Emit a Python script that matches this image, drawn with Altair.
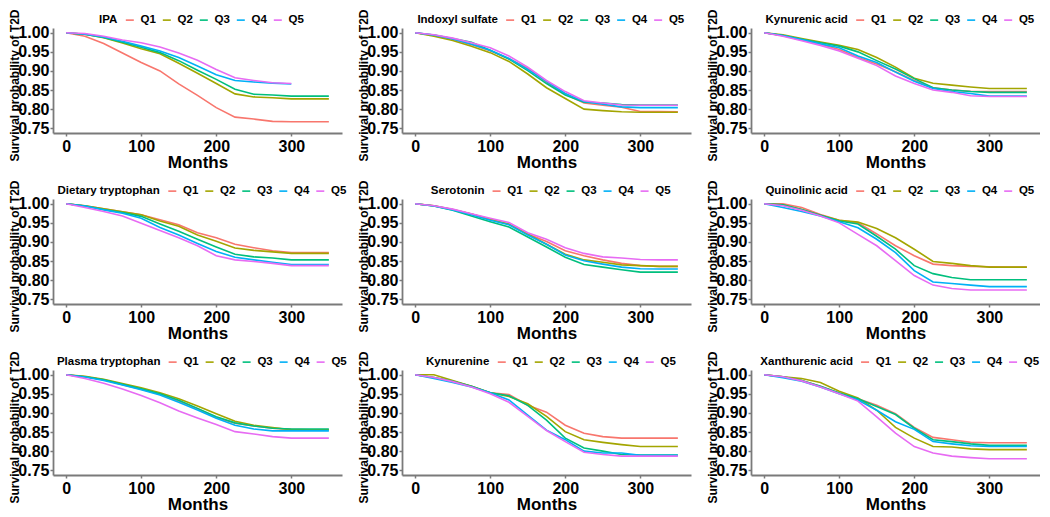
import altair as alt
import pandas as pd

months = [0, 25, 50, 75, 100, 125, 150, 175, 200, 225, 250, 275, 300, 325, 350]
quintiles = ["Q1", "Q2", "Q3", "Q4", "Q5"]
colors = ["#F8766D", "#A3A500", "#00BF7D", "#00B0F6", "#E76BF3"]
y_ticks = [0.75, 0.80, 0.85, 0.90, 0.95, 1.00]
x_ticks = [0, 100, 200, 300]

panel_names = ["IPA", "Indoxyl sulfate", "Kynurenic acid",
               "Dietary tryptophan", "Serotonin", "Quinolinic acid",
               "Plasma tryptophan", "Kynurenine", "Xanthurenic acid"]

ipa = [
    [1.0, 0.991, 0.972, 0.947, 0.922, 0.900, 0.866, 0.836, 0.804, 0.779, 0.774, 0.768, 0.767, 0.767, 0.767],
    [1.0, 0.996, 0.987, 0.973, 0.958, 0.945, 0.920, 0.894, 0.867, 0.840, 0.832, 0.830, 0.827, 0.827, 0.827],
    [1.0, 0.996, 0.988, 0.975, 0.962, 0.948, 0.927, 0.902, 0.878, 0.852, 0.839, 0.837, 0.834, 0.834, 0.834],
    [1.0, 0.996, 0.989, 0.978, 0.965, 0.952, 0.935, 0.913, 0.890, 0.875, 0.871, 0.868, 0.866, None, None],
    [1.0, 0.998, 0.991, 0.981, 0.974, 0.963, 0.947, 0.928, 0.904, 0.882, 0.875, 0.869, 0.867, None, None],
]
indoxyl_sulfate = [
    [1.0, 0.993, 0.983, 0.969, 0.953, 0.932, 0.907, 0.871, 0.839, 0.816, 0.810, 0.805, 0.794, 0.794, 0.793],
    [1.0, 0.991, 0.980, 0.965, 0.948, 0.925, 0.892, 0.856, 0.828, 0.800, 0.796, 0.793, 0.792, 0.792, 0.792],
    [1.0, 0.994, 0.985, 0.975, 0.954, 0.931, 0.901, 0.867, 0.837, 0.818, 0.816, 0.812, 0.811, 0.811, 0.811],
    [1.0, 0.994, 0.984, 0.970, 0.954, 0.933, 0.904, 0.873, 0.841, 0.820, 0.813, 0.806, 0.804, 0.804, 0.804],
    [1.0, 0.995, 0.986, 0.974, 0.961, 0.939, 0.910, 0.875, 0.846, 0.822, 0.816, 0.811, 0.810, 0.810, 0.810],
]
kynurenic_acid = [
    [1.0, 0.992, 0.981, 0.970, 0.956, 0.935, 0.918, 0.898, 0.875, 0.856, 0.850, 0.847, 0.846, 0.846, 0.846],
    [1.0, 0.995, 0.985, 0.976, 0.967, 0.956, 0.935, 0.910, 0.881, 0.868, 0.863, 0.858, 0.854, 0.854, 0.854],
    [1.0, 0.993, 0.983, 0.974, 0.965, 0.950, 0.927, 0.905, 0.880, 0.856, 0.850, 0.846, 0.844, 0.844, 0.844],
    [1.0, 0.993, 0.982, 0.971, 0.961, 0.939, 0.922, 0.897, 0.873, 0.854, 0.846, 0.841, 0.834, 0.834, 0.834],
    [1.0, 0.991, 0.979, 0.967, 0.952, 0.933, 0.914, 0.887, 0.867, 0.850, 0.844, 0.835, 0.833, 0.833, 0.833],
]
dietary_tryptophan = [
    [1.0, 0.995, 0.987, 0.979, 0.971, 0.958, 0.945, 0.924, 0.911, 0.894, 0.885, 0.877, 0.872, 0.872, 0.872],
    [1.0, 0.995, 0.987, 0.979, 0.971, 0.955, 0.941, 0.918, 0.902, 0.884, 0.878, 0.874, 0.870, 0.870, 0.870],
    [1.0, 0.994, 0.985, 0.977, 0.967, 0.947, 0.928, 0.907, 0.887, 0.868, 0.861, 0.858, 0.853, 0.853, 0.853],
    [1.0, 0.994, 0.984, 0.975, 0.962, 0.938, 0.918, 0.896, 0.875, 0.860, 0.853, 0.847, 0.841, 0.841, 0.841],
    [1.0, 0.990, 0.980, 0.968, 0.949, 0.930, 0.911, 0.890, 0.864, 0.853, 0.849, 0.844, 0.838, 0.838, 0.838],
]
serotonin = [
    [1.0, 0.995, 0.985, 0.973, 0.960, 0.946, 0.921, 0.901, 0.877, 0.864, 0.853, 0.844, 0.838, 0.836, 0.836],
    [1.0, 0.995, 0.985, 0.973, 0.959, 0.947, 0.920, 0.894, 0.868, 0.853, 0.847, 0.840, 0.838, 0.836, 0.836],
    [1.0, 0.994, 0.983, 0.968, 0.953, 0.939, 0.913, 0.887, 0.860, 0.841, 0.834, 0.827, 0.821, 0.821, 0.821],
    [1.0, 0.994, 0.984, 0.971, 0.957, 0.945, 0.918, 0.894, 0.866, 0.851, 0.842, 0.834, 0.830, 0.829, 0.829],
    [1.0, 0.995, 0.986, 0.974, 0.962, 0.951, 0.924, 0.907, 0.885, 0.870, 0.861, 0.858, 0.854, 0.853, 0.853],
]
quinolinic_acid = [
    [1.0, 1.0, 0.990, 0.972, 0.957, 0.950, 0.921, 0.890, 0.864, 0.842, 0.838, 0.836, 0.835, 0.834, 0.834],
    [1.0, 0.997, 0.985, 0.970, 0.957, 0.952, 0.935, 0.911, 0.881, 0.849, 0.844, 0.838, 0.834, 0.834, 0.834],
    [1.0, 0.997, 0.985, 0.970, 0.955, 0.947, 0.915, 0.881, 0.838, 0.817, 0.807, 0.801, 0.801, 0.801, 0.801],
    [1.0, 0.990, 0.980, 0.968, 0.953, 0.937, 0.907, 0.872, 0.825, 0.795, 0.791, 0.787, 0.783, 0.783, 0.783],
    [1.0, 0.995, 0.983, 0.968, 0.950, 0.920, 0.890, 0.851, 0.812, 0.787, 0.778, 0.774, 0.774, 0.774, 0.774],
]
plasma_tryptophan = [
    [1.0, 0.995, 0.987, 0.974, 0.962, 0.949, 0.931, 0.911, 0.888, 0.873, 0.866, 0.860, 0.857, 0.856, 0.856],
    [1.0, 0.996, 0.988, 0.977, 0.966, 0.953, 0.937, 0.918, 0.898, 0.878, 0.868, 0.862, 0.856, 0.856, 0.856],
    [1.0, 0.995, 0.987, 0.975, 0.963, 0.950, 0.933, 0.912, 0.890, 0.874, 0.866, 0.860, 0.858, 0.858, 0.858],
    [1.0, 0.994, 0.985, 0.973, 0.961, 0.947, 0.928, 0.908, 0.886, 0.868, 0.858, 0.853, 0.853, 0.853, 0.853],
    [1.0, 0.990, 0.978, 0.963, 0.946, 0.927, 0.905, 0.887, 0.870, 0.851, 0.845, 0.838, 0.834, 0.834, 0.834],
]
kynurenine = [
    [1.0, 0.993, 0.983, 0.970, 0.953, 0.948, 0.920, 0.902, 0.868, 0.847, 0.838, 0.834, 0.834, 0.834, 0.834],
    [1.0, 1.0, 0.985, 0.970, 0.953, 0.943, 0.924, 0.891, 0.851, 0.830, 0.823, 0.817, 0.812, 0.812, 0.812],
    [1.0, 0.993, 0.983, 0.970, 0.953, 0.945, 0.920, 0.881, 0.834, 0.808, 0.800, 0.791, 0.790, 0.790, 0.790],
    [1.0, 0.990, 0.980, 0.968, 0.953, 0.934, 0.894, 0.855, 0.830, 0.800, 0.795, 0.795, 0.789, 0.789, 0.789],
    [1.0, 0.993, 0.982, 0.968, 0.950, 0.928, 0.891, 0.854, 0.825, 0.797, 0.791, 0.787, 0.787, 0.787, 0.787],
]
xanthurenic_acid = [
    [1.0, 0.995, 0.985, 0.970, 0.952, 0.937, 0.920, 0.898, 0.862, 0.836, 0.830, 0.823, 0.822, 0.822, 0.822],
    [1.0, 0.995, 0.990, 0.980, 0.957, 0.939, 0.907, 0.862, 0.834, 0.812, 0.811, 0.806, 0.804, 0.804, 0.804],
    [1.0, 0.995, 0.985, 0.970, 0.952, 0.937, 0.917, 0.896, 0.860, 0.830, 0.825, 0.819, 0.815, 0.815, 0.815],
    [1.0, 0.992, 0.983, 0.968, 0.950, 0.934, 0.907, 0.877, 0.857, 0.825, 0.819, 0.814, 0.812, 0.812, 0.812],
    [1.0, 0.995, 0.984, 0.968, 0.950, 0.931, 0.890, 0.847, 0.812, 0.795, 0.787, 0.783, 0.780, 0.780, 0.780],
]

panel_data = [ipa, indoxyl_sulfate, kynurenic_acid,
              dietary_tryptophan, serotonin, quinolinic_acid,
              plasma_tryptophan, kynurenine, xanthurenic_acid]

FONT = "Liberation Sans"
PW, PH = 289, 105
LEG_FS = 11.5

# Arial Bold advance widths (per 1000 em) for legend centring
_W = dict(zip("ABCDEFGHIJKLMNOPQRSTUVWXYZ",
              [722, 722, 722, 722, 667, 611, 778, 722, 278, 556, 722, 611, 833,
               722, 778, 667, 778, 722, 667, 611, 722, 667, 944, 667, 667, 611]))
_W.update(dict(zip("abcdefghijklmnopqrstuvwxyz",
                   [556, 611, 556, 611, 556, 333, 611, 611, 278, 278, 556, 278, 889,
                    611, 611, 611, 611, 389, 556, 333, 611, 556, 778, 556, 556, 500])))
_W.update({c: 556 for c in "0123456789"})
_W[" "] = 278


def text_w(s, fs):
    return sum(_W.get(c, 556) for c in s) * fs / 1000.0


def panel(name, series):
    rows = []
    for q, vals in zip(quintiles, series):
        for m, v in zip(months, vals):
            if v is not None:
                rows.append({"month": m, "surv": v, "group": q})
    df = pd.DataFrame(rows)
    sym, loff, cpad, tpad = 8, 5, 3, 6
    total = (text_w(name, LEG_FS) + tpad
             + sum(sym + loff + text_w(q, LEG_FS) + 3.6 for q in quintiles) + 4 * cpad)
    lx = PW / 2 - total / 2
    return alt.Chart(df).mark_line(strokeWidth=1.6).encode(
        x=alt.X("month:Q",
                scale=alt.Scale(domain=[-17.5, 367.5], nice=False, zero=False),
                axis=alt.Axis(values=x_ticks, title="Months", format="d",
                              labelFontSize=16, labelFontWeight="bold", labelFont=FONT,
                              labelColor="black", titleFontSize=17, titleFontWeight="bold",
                              titleFont=FONT, titleColor="black", titlePadding=0,
                              labelPadding=2, tickSize=3, tickColor="#7a7a7a",
                              tickWidth=1.5, domainColor="#7a7a7a", domainWidth=1.8,
                              grid=False, labelFlush=False)),
        y=alt.Y("surv:Q",
                scale=alt.Scale(domain=[0.7375, 1.0125], nice=False, zero=False),
                axis=alt.Axis(values=y_ticks, title="Survival probability of T2D",
                              format=".2f", labelFontSize=16, labelFontWeight="bold",
                              labelFont=FONT, labelColor="black", titleFontSize=12,
                              titleFontWeight="bold", titleFont=FONT, titleColor="black",
                              titlePadding=-4, titleY=57, labelPadding=1, tickSize=3,
                              tickColor="#7a7a7a", tickWidth=1.5, domainColor="#7a7a7a",
                              domainWidth=1.8, grid=False, labelFlush=False)),
        color=alt.Color("group:N",
                        scale=alt.Scale(domain=quintiles, range=colors),
                        legend=alt.Legend(title=name, orient="none", legendX=lx,
                                          legendY=-14, direction="horizontal",
                                          titleOrient="left", titleFont=FONT,
                                          titleFontSize=LEG_FS, titleFontWeight="bold",
                                          titleColor="black", titlePadding=tpad,
                                          labelFont=FONT, labelFontSize=LEG_FS,
                                          labelFontWeight="bold", labelColor="black",
                                          symbolType="stroke", symbolSize=sym * sym,
                                          symbolStrokeWidth=1.6, labelOffset=loff,
                                          columnPadding=cpad, padding=0)),
    ).properties(width=PW, height=PH)


charts = [panel(n, d) for n, d in zip(panel_names, panel_data)]
chart = alt.concat(*charts, columns=3, spacing={"row": 66, "column": 60},
                   bounds="flush").resolve_scale(
    color="independent").properties(padding=0).configure_view(stroke=None)

chart.save("out.html", embed_options={"renderer": "svg", "actions": False})
